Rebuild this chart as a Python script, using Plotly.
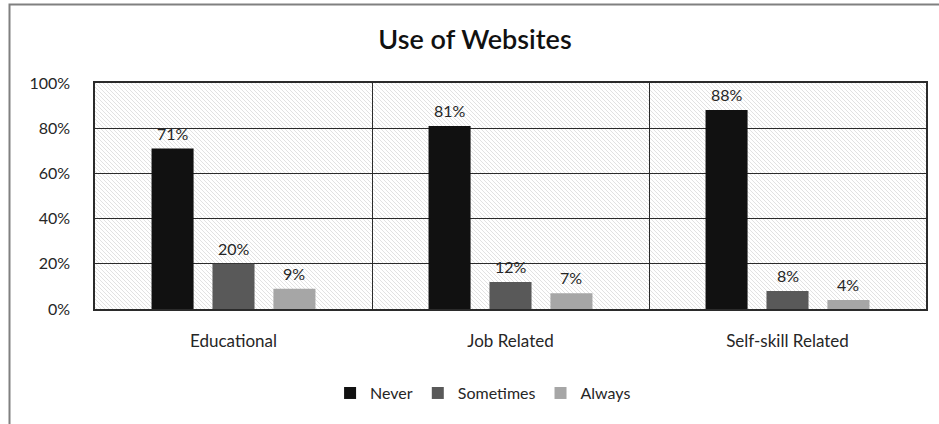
import base64
import plotly.graph_objects as go

# Survey data: how often websites are used, by purpose (percent of respondents)
categories = ["Educational", "Job Related", "Self-skill Related"]
never = [71, 81, 88]
sometimes = [20, 12, 8]
always = [9, 7, 4]

series_names = ["Never", "Sometimes", "Always"]
series_values = [never, sometimes, always]
series_colors = ["#111111", "#595959", "#a6a6a6"]

y_ticks = [0, 20, 40, 60, 80, 100]
y_tick_labels = [f"{v}%" for v in y_ticks]

FONT = "Lato, 'Open Sans', sans-serif"
TEXT = "#262626"
LINE = "#2b2b2b"
BARGAP = 0.34
BARGROUPGAP = 0.31

W, H = 939, 424
M = dict(l=95, r=13, t=83, b=115)
PW, PH = W - M["l"] - M["r"], H - M["t"] - M["b"]

# Fine diagonal hatch used as the plot-area background
svg = (
    f'<svg xmlns="http://www.w3.org/2000/svg" width="{PW}" height="{PH}" '
    f'viewBox="0 0 {PW} {PH}" preserveAspectRatio="none">'
    '<defs><pattern id="h" width="4" height="4" patternUnits="userSpaceOnUse">'
    '<rect width="4" height="4" fill="#ffffff"/>'
    '<path d="M-1,-1 L5,5 M-1,3 L1,5 M3,-1 L5,1" stroke="#dadada" stroke-width="0.8"/>'
    '</pattern></defs>'
    f'<rect width="{PW}" height="{PH}" fill="url(#h)"/></svg>'
)
hatch_uri = "data:image/svg+xml;base64," + base64.b64encode(svg.encode()).decode()

fig = go.Figure()
for name, vals, color in zip(series_names, series_values, series_colors):
    fig.add_trace(go.Bar(
        name=name, x=categories, y=vals,
        marker=dict(color=color, line=dict(width=0)),
    ))

# Value labels above each bar, placed at the grouped bar centres
slot = (1 - BARGAP) / len(series_names)
annotations = []
for k, vals in enumerate(series_values):
    for i, v in enumerate(vals):
        annotations.append(dict(
            x=i + (k - (len(series_names) - 1) / 2) * slot, y=v,
            xref="x", yref="y", text=f"{v}%", showarrow=False,
            yanchor="bottom", yshift=4,
            font=dict(family=FONT, size=16, color=TEXT),
        ))

fig.update_layout(
    width=W, height=H,
    margin=M,
    paper_bgcolor="white",
    plot_bgcolor="rgba(0,0,0,0)",
    barmode="group",
    bargap=BARGAP,
    bargroupgap=BARGROUPGAP,
    font=dict(family=FONT, size=16, color=TEXT),
    title=dict(
        text="Use of Websites",
        font=dict(family=FONT, size=27, color="#111111", weight=600),
        x=475 / W, xanchor="center",
        y=1 - 40 / H, yanchor="middle",
    ),
    legend=dict(
        orientation="h",
        x=0.467, xanchor="center",
        y=-0.372, yanchor="middle",
        font=dict(family=FONT, size=16, color=TEXT),
        itemwidth=30,
        bgcolor="rgba(0,0,0,0)",
    ),
    annotations=annotations,
    images=[dict(
        source=hatch_uri, xref="paper", yref="paper",
        x=0, y=1, sizex=1, sizey=1,
        xanchor="left", yanchor="top",
        sizing="stretch", layer="below",
    )],
    shapes=[dict(
        type="rect", xref="paper", yref="paper",
        x0=(9.5 - M["l"]) / PW, x1=1.2,
        y0=-1.0, y1=(PH + M["t"] - 4.5) / PH,
        line=dict(color="#808080", width=2),
        layer="below",
    )],
)

fig.update_xaxes(
    type="category",
    tickson="boundaries",
    showgrid=True, gridcolor=LINE, gridwidth=1,
    showline=True, linecolor=LINE, linewidth=1.5, mirror=True,
    ticks="", ticklabelstandoff=16,
    tickfont=dict(family=FONT, size=17, color=TEXT),
)
fig.update_yaxes(
    range=[0, 100],
    tickmode="array", tickvals=y_ticks, ticktext=y_tick_labels,
    showgrid=True, gridcolor=LINE, gridwidth=1,
    showline=True, linecolor=LINE, linewidth=1.5, mirror=True,
    zeroline=False,
    ticks="", ticklabelstandoff=20,
    tickfont=dict(family=FONT, size=16, color=TEXT),
)

fig.write_html("out.html")
